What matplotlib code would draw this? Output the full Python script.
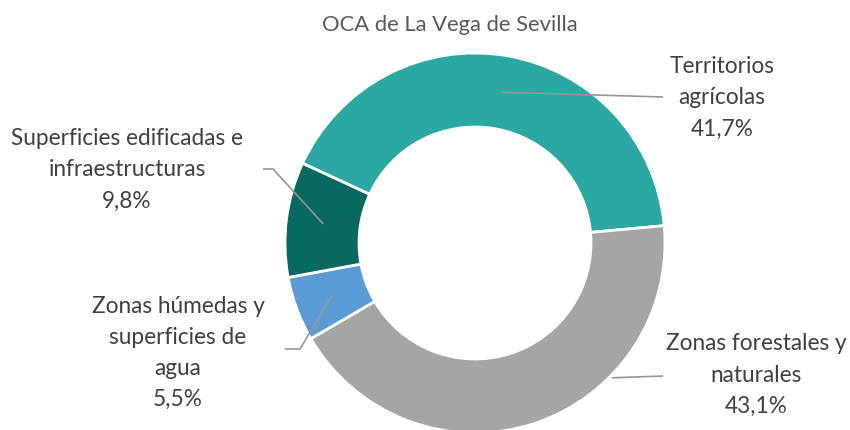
import numpy as np
import matplotlib
matplotlib.use("Agg")
import matplotlib.pyplot as plt

# ---- data (clockwise order, starting at the top-left) ----
categories = ["Territorios\nagrícolas", "Zonas forestales y\nnaturales",
              "Zonas húmedas y\nsuperficies de\nagua", "Superficies edificadas e\ninfraestructuras"]
values = [41.7, 43.1, 5.5, 9.8]
colors = ["#2AA8A1", "#A5A5A5", "#5B9BD5", "#086962"]

# ---- layout (image pixels, y down) ----
W, H = 850, 430
CX, CY = 475, 243
R_OUT, R_IN = 190, 116
START = 155.2

# label text centre and leader-line path (text end first) for each slice
label_xy = [(722, 98), (756, 375), (178, 353), (127, 170)]
leader_end = [[(663, 97)], [(663, 376)], [(285, 349), (300, 349)], [(263, 169), (273, 169)]]
anchor_r = [153, 192, 153, 153]
anchor_ang = [None, -44.6, None, None]   # None -> slice mid-angle

plt.rcParams["font.family"] = ["Lato", "DejaVu Sans"]

fig = plt.figure(figsize=(W / 100, H / 100), dpi=100)
ax = fig.add_axes([0, 0, 1, 1])


def py(y):
    return H - y


wedges, _ = ax.pie(values, colors=colors, startangle=START, counterclock=False,
                   radius=R_OUT, center=(CX, py(CY)),
                   wedgeprops=dict(width=R_OUT - R_IN, edgecolor="white", linewidth=2))
ax.set_xlim(0, W)
ax.set_ylim(0, H)
ax.set_aspect("equal")
ax.axis("off")

for i, (w, cat, v) in enumerate(zip(wedges, categories, values)):
    ang = anchor_ang[i] if anchor_ang[i] is not None else (w.theta1 + w.theta2) / 2
    ax_x = CX + anchor_r[i] * np.cos(np.radians(ang))
    ax_y = py(CY) + anchor_r[i] * np.sin(np.radians(ang))
    pts = [(x, py(y)) for x, y in leader_end[i]] + [(ax_x, ax_y)]
    xs, ys = zip(*pts)
    ax.plot(xs, ys, color="#979797", lw=1.2, solid_capstyle="butt")
    tx, ty = label_xy[i]
    ax.text(tx, py(ty), f"{cat}\n{v:.1f}%".replace(".", ","), ha="center", va="center",
            fontsize=16.3, color="#404040", linespacing=1.6)

ax.text(450, py(25), "OCA de La Vega de Sevilla", ha="center", va="center",
        fontsize=15.8, color="#595959")

fig.savefig("out.png", dpi=100)
